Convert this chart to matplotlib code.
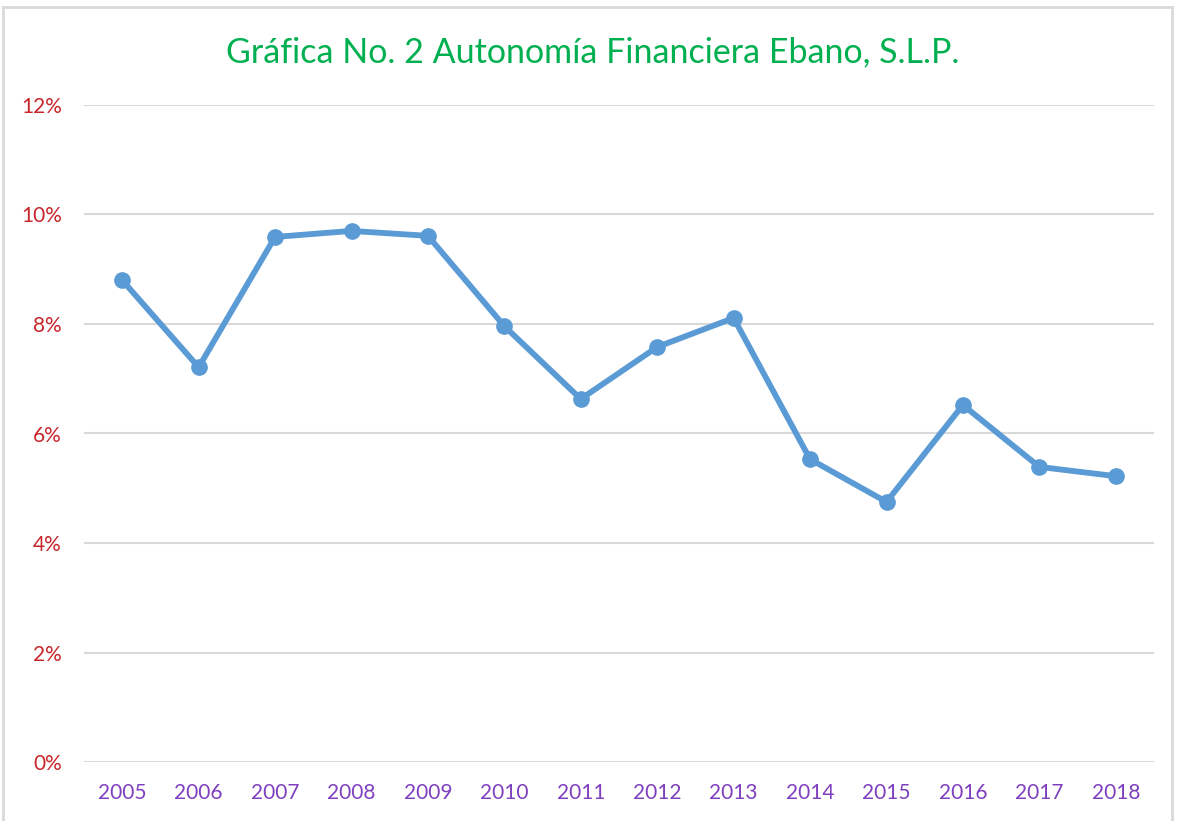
import matplotlib.pyplot as plt
from matplotlib.patches import Rectangle
from matplotlib.ticker import FuncFormatter

years = ['2005', '2006', '2007', '2008', '2009', '2010', '2011',
         '2012', '2013', '2014', '2015', '2016', '2017', '2018']
autonomia = [8.80, 7.21, 9.59, 9.70, 9.61, 7.96, 6.63,
             7.58, 8.11, 5.53, 4.75, 6.52, 5.39, 5.22]
y_ticks = [0, 2, 4, 6, 8, 10, 12]

plt.rcParams['font.family'] = ['Lato', 'DejaVu Sans']

W, H = 1181, 821
fig = plt.figure(figsize=(W / 100, H / 100), dpi=100)
fig.patches.append(Rectangle((3 / W, -0.01), (1172 - 3) / W, (H - 7) / H + 0.01,
                             transform=fig.transFigure, fill=False,
                             edgecolor='#D9D9D9', linewidth=2))

ax = fig.add_axes([84 / W, (H - 762) / H, (1154 - 84) / W, (762 - 105) / H])
x = list(range(len(years)))
ax.plot(x, autonomia, color='#5B9BD5', linewidth=4.2, marker='o',
        markersize=11, solid_capstyle='round', zorder=3)

ax.set_xlim(-0.5, len(years) - 0.5)
ax.set_ylim(0, 12)
ax.set_yticks(y_ticks)
ax.yaxis.set_major_formatter(FuncFormatter(lambda v, p: f'{v:.0f}%'))
ax.set_xticks(x)
ax.set_xticklabels(years)
ax.grid(axis='y', color='#D9D9D9', linewidth=1.5)
ax.set_axisbelow(True)
for s in ax.spines.values():
    s.set_visible(False)
ax.tick_params(axis='y', length=0, pad=16, labelsize=15, labelcolor='#C8262B')
ax.tick_params(axis='x', length=0, pad=15, labelsize=15, labelcolor='#7F3FBF')

fig.text(593 / W, (H - 52) / H, 'Gráfica No. 2 Autonomía Financiera Ebano, S.L.P.',
         ha='center', va='center', fontsize=24.5, color='#00B050')

fig.savefig('out.png', dpi=100)
